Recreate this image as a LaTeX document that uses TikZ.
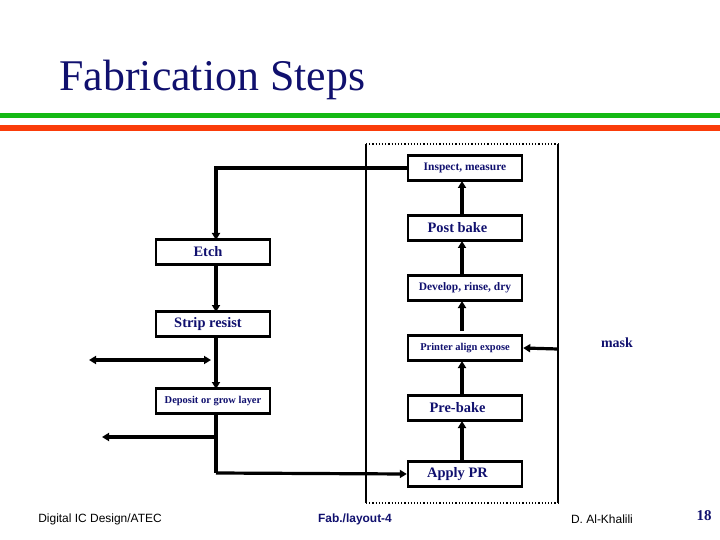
\documentclass[tikz,border=0pt]{standalone}
\usepackage{fontspec}
\setmainfont{Liberation Serif}
\setsansfont{Liberation Sans}
\usetikzlibrary{arrows.meta}
\definecolor{navy}{RGB}{16,16,110}
\definecolor{lgreen}{RGB}{20,185,20}
\definecolor{lorange}{RGB}{250,60,10}
\begin{document}
\begin{tikzpicture}[x=1bp,y=-1bp,
  box/.style={draw,line width=2.4bp,minimum width=114bp,minimum height=25bp,inner sep=0pt},
  small/.style={font=\bfseries\fontsize{11.5}{12}\selectfont\color{navy}},
  big/.style={font=\bfseries\fontsize{14.5}{15}\selectfont\color{navy}},
  flow/.style={line width=3.2bp,-{Triangle[length=7bp,width=8bp]}}]
\useasboundingbox (0,0) rectangle (720,540);
\node[anchor=west,text=navy,font=\fontsize{44}{46}\selectfont] (title) at (56,80) {Fabrication Steps};
\fill[lgreen] (0,113) rectangle (720,118);
\fill[lorange] (0,125) rectangle (720,131);
\draw[line width=1.5bp] (366,144) -- (366,503);
\draw[line width=1.5bp] (558,144) -- (558,503);
\draw[line width=1.2bp,dotted] (366,144) -- (558,144);
\draw[line width=1.2bp,dotted] (366,503) -- (558,503);
\node[box,small] (insp) at (465,168) {Inspect, measure};
\node[box,big] (post) at (465,228) {\hspace*{-15bp}Post bake};
\node[box,small] (dev) at (465,288) {Develop, rinse, dry};
\node[box,font=\bfseries\fontsize{10.5}{11}\selectfont\color{navy}] (prt) at (465,348) {Printer align expose};
\node[box,big] (pre) at (465,408) {\hspace*{-15bp}Pre-bake};
\node[box,big] (apr) at (465,474) {\hspace*{-15bp}Apply PR};
\node[box,big] (etch) at (213,252) {\hspace*{-10bp}Etch};
\node[box,big] (strip) at (213,324) {\hspace*{-10bp}Strip resist};
\node[box,font=\bfseries\fontsize{10.5}{11}\selectfont\color{navy}] (dep) at (213,401) {Deposit or grow layer};
\node[text=navy,font=\bfseries\fontsize{14}{15}\selectfont] (mask) at (617,343) {mask};
\coordinate (mr) at (558,349);
\draw[flow] (insp.west) -| (216,240);
\draw[flow] (216,265) -- (216,312);
\draw[flow] (216,337) -- (216,389);
\draw[line width=3.2bp] (216,414) -- (216,473);
\draw[flow] (216,473) -- (apr.west);
\coordinate (ll) at (102,437);
\draw[flow] (216,437) -- (ll);
\coordinate (dl) at (89,360);
\coordinate (dr) at (211,360);
\draw[line width=3.2bp,{Triangle[length=7bp,width=8bp]}-{Triangle[length=7bp,width=8bp]}] (dl) -- (dr);
\draw[flow] (mr) -- (prt.east);
\draw[flow] (462,461) -- (462,421);
\draw[flow] (462,395) -- (462,361);
\draw[flow] (462,331) -- (462,301);
\draw[flow] (462,275) -- (462,241);
\draw[flow] (462,215) -- (462,181);
\node[font=\sffamily\fontsize{12}{13}\selectfont] (f1) at (100,519) {Digital IC Design/ATEC};
\node[font=\sffamily\bfseries\fontsize{12}{13}\selectfont,text=navy] (f2) at (355,519) {Fab./layout-4};
\node[font=\sffamily\fontsize{12}{13}\selectfont] (f3) at (602,519) {D. Al-Khalili};
\node[font=\bfseries\fontsize{15}{16}\selectfont,text=navy] (f4) at (704,516) {18};
\end{tikzpicture}
\end{document}
